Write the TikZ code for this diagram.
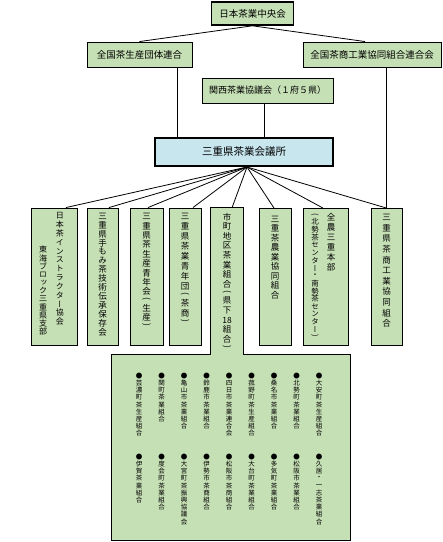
\documentclass[tikz,border=0pt]{standalone}
\usepackage{fontspec}
\usepackage{graphicx}
\newfontfamily\jp{Noto Sans CJK JP}
\newfontfamily\jpv[RawFeature=+vert]{Noto Sans CJK JP}
\usetikzlibrary{positioning}

\definecolor{chagreen}{RGB}{198,224,181}
\definecolor{kaiblue}{RGB}{200,230,238}

% 縦書きの列
\makeatletter
\newdimen\tpitch
\def\tlp{（}\def\trp{）}
\def\tatego{\@tfor\tch:=}
\newcommand\tatecell[2]{\hbox to 1em{\hss\vbox to #1{\vss\hbox{#2}\vss}\hss}}
\newcommand\tatecol[3]{%
  \vtop{\offinterlineskip\tpitch=#2\relax\kern#1\relax
    \edef\tlist{#3}%
    \expandafter\tatego\tlist\do{%
      \ifx\tch\tlp\tatecell{.75\tpitch}{\rotatebox[origin=c]{-90}{\jp(}}%
      \else\ifx\tch\trp\tatecell{.75\tpitch}{\rotatebox[origin=c]{-90}{\jp)}}%
      \else\tatecell{\tpitch}{\tch}\fi\fi}}}
\makeatother

\begin{document}
\begin{tikzpicture}[
      x=1pt, y=-1pt,
      font=\jp,
      box/.style={draw, fill=chagreen, line width=0.9pt, inner sep=0pt},
      flat/.style={fill=chagreen, inner sep=0pt},
      topbox/.style={box, font=\jp\fontsize{9.5}{11}\selectfont, minimum height=25pt},
      tatebox/.style={box, minimum height=137pt},
      tate/.style={font=\jpv\fontsize{8.5}{10}\selectfont, inner sep=0pt},
      tatesm/.style={font=\jpv\fontsize{6.5}{7}\selectfont, inner sep=0pt, anchor=north},
      link/.style={line width=0.8pt}
    ]
    \useasboundingbox (0,0) rectangle (443,542);

    % 全国・地方組織
    \node[topbox, line width=1.6pt, minimum width=82pt, minimum height=23pt] (chuo) at (252.5,13.5) {日本茶業中央会};
    \node[topbox, minimum width=105pt] (seisan) at (139.5,54.5) {全国茶生産団体連合};
    \node[topbox, minimum width=138pt] (shokoren) at (372,54.5) {全国茶商工業協同組合連合会};
    \node[topbox, font=\jp\fontsize{9}{11}\selectfont, minimum width=131pt] (kansai) at (267.5,90.5) {関西茶業協議会（１府５県）};
    \node[box, fill=kaiblue, line width=2pt, minimum width=178pt, minimum height=28pt,
          font=\jp\fontsize{10.5}{12}\selectfont] (kaigisho) at (244,152) {三重県茶業会議所};

    % 県内団体
    \node[tatebox, minimum width=46pt] (b1) at (54,276.5) {};
    \node[tatebox, minimum width=31pt] (b2) at (102.5,276.5) {};
    \node[tatebox, minimum width=33pt] (b3) at (146.5,276.5) {};
    \node[tatebox, minimum width=32pt] (b4) at (185,276.5) {};
    \node[tatebox, minimum width=32pt] (b6) at (275,277) {};
    \node[tatebox, minimum width=45pt] (b7) at (325.5,277) {};
    \node[tatebox, minimum width=31pt] (b8) at (386.5,277) {};

    % 市町地区茶業組合と県下18組合
    \node[flat, minimum width=238pt, minimum height=185.5pt] (kumiai) at (231,447.75) {};
    \node[flat, minimum width=32pt, minimum height=148pt] (b5) at (227,282) {};
    \draw[line width=0.9pt] (kumiai.north west) -- (b5.west |- kumiai.north) -- (b5.north west)
      -- (b5.north east) -- (b5.east |- kumiai.north) -- (kumiai.north east)
      -- (kumiai.south east) -- (kumiai.south west) -- cycle;

    % 縦書きの名称
    \node[tate, below=4pt of b1.north, xshift=-2.5pt] (t1) {\fontsize{8}{9}\selectfont
      \tatecol{34pt}{8.2pt}{東海ブロック三重県支部}\hskip9pt\tatecol{0pt}{8.8pt}{日本茶インストラクター協会}};
    \node[tate, below=4pt of b2.north] (t2) {\tatecol{0pt}{8.9pt}{三重県手もみ茶技術伝承保存会}};
    \node[tate, below=4pt of b3.north] (t3) {\tatecol{0pt}{9.4pt}{三重県茶生産青年会（生産）}};
    \node[tate, below=4pt of b4.north] (t4) {\tatecol{0pt}{9.9pt}{三重県茶業青年団（茶商）}};
    \node[tate, below=4pt of b5.north] (t5) {\tatecol{0pt}{9.6pt}{市町地区茶業組合（県下{18}組合）}};
    \node[tate, below=6pt of b6.north] (t6) {\tatecol{0pt}{9.5pt}{三重茶農業協同組合}};
    \node[tate, below=4pt of b7.north, xshift=-2.25pt] (t7) {%
      {\fontsize{7.5}{8}\selectfont\tatecol{0pt}{7.7pt}{（北勢茶センター・南勢茶センター）}}\hskip8pt
      \tatecol{0pt}{10pt}{全農三重本部}};
    \node[tate, below=4pt of b8.north] (t8) {\tatecol{0pt}{10.6pt}{三重県茶商工業協同組合}};

    \foreach \kumi [count=\i] in {芸濃町茶生産組合,関町茶業組合,亀山市茶業組合,鈴鹿市茶業組合,
        四日市茶業連合会,菰野町茶生産組合,桑名市茶業組合,北勢町茶業組合,大安町茶生産組合}
      \node[tatesm] (ue\i) at (116.5+22.5*\i,372) {\tatecol{0pt}{7.2pt}{●\kumi}};
    \foreach \kumi [count=\i] in {伊賀茶業組合,度会町茶業組合,大宮町茶振興協議会,伊勢市茶商組合,
        松阪市茶商組合,大台町茶業組合,多気町茶業組合,松阪市茶業組合,久居・一志茶業組合}
      \node[tatesm] (shita\i) at (116.5+22.5*\i,453) {\tatecol{0pt}{7.2pt}{●\kumi}};

    % 上部の線
    \draw[link] (chuo.south) -- (seisan.north);
    \draw[link] (chuo.south) -- ([xshift=-7pt]shokoren.north);
    \draw[link] ([xshift=37.5pt]seisan.south) -- ([xshift=37.5pt]seisan.south |- kaigisho.north);
    \draw[link] ([xshift=-3.5pt]kansai.south) -- ([xshift=-3.5pt]kansai.south |- kaigisho.north);
    \draw[link] (shokoren.south -| b8.north) -- (b8.north);
    % 会議所から各団体へ
    \foreach \b/\dx in {b1/12, b2/6.5, b3/1.5, b4/8, b5/5, b6/-1, b7/-2.5, b8/0}
      \draw[link] ([xshift=3pt]kaigisho.south) -- ([xshift=\dx pt]\b.north);
  \end{tikzpicture}
\end{document}
